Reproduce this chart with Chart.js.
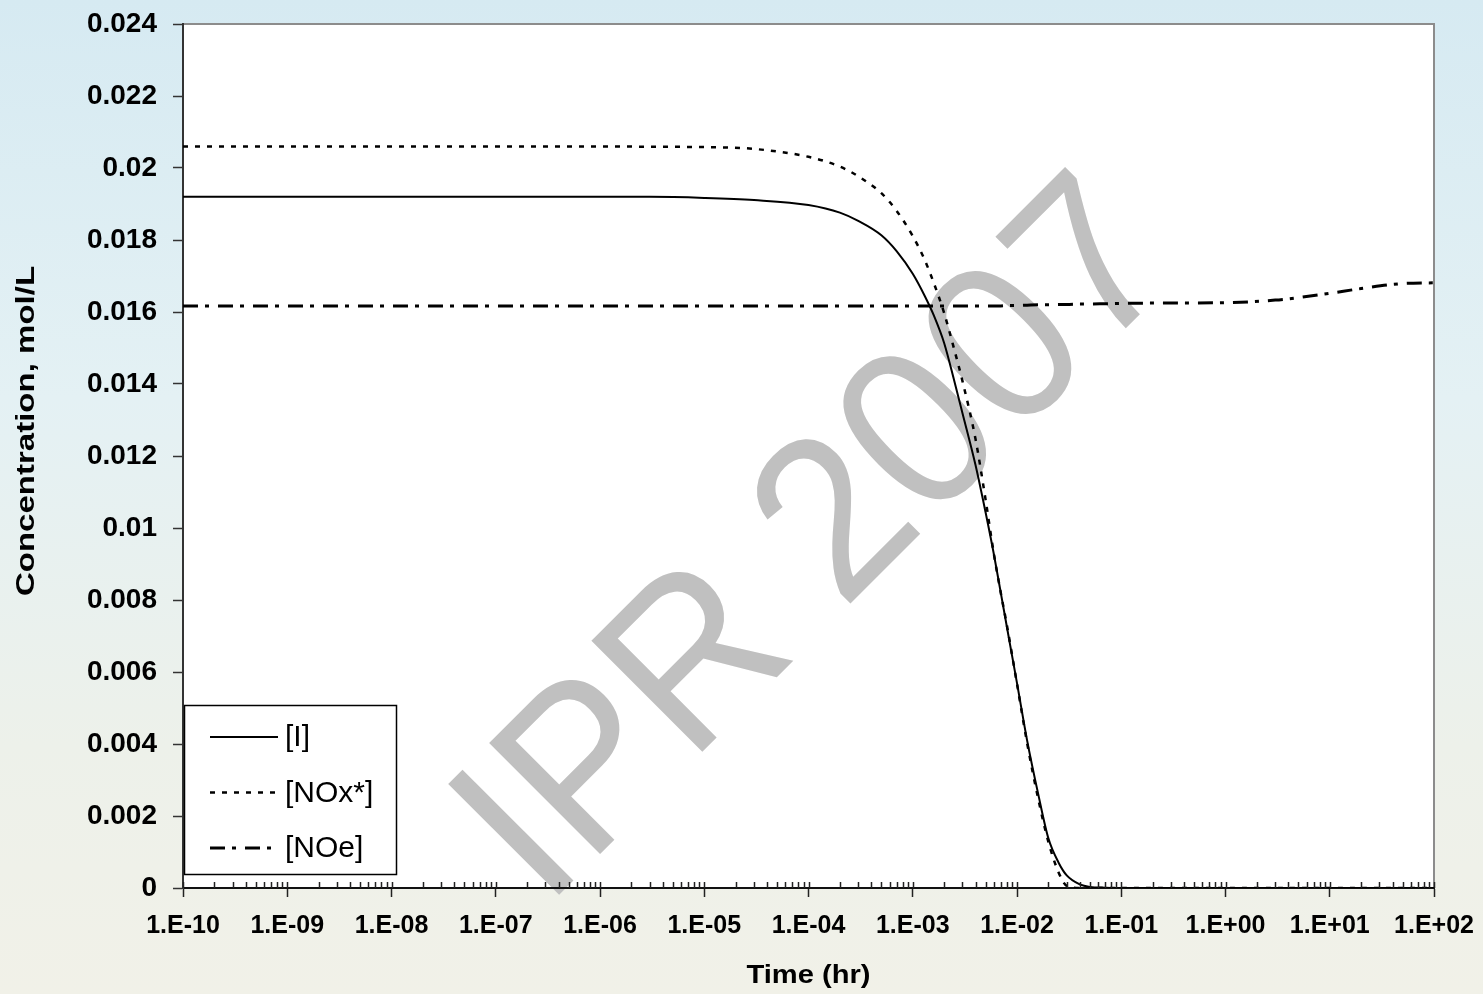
<!DOCTYPE html>
<html>
<head>
<meta charset="utf-8">
<script src="https://cdn.jsdelivr.net/npm/chart.js@4.4.0/dist/chart.umd.min.js"></script>
<style>
html, body { margin: 0; padding: 0; }
body {
  width: 1483px; height: 994px; overflow: hidden;
  background: linear-gradient(180deg, #d6eaf2 0%, #e4f1f4 40%, #edf1ea 75%, #f1f1e8 100%);
}
canvas { display: block; }
</style>
</head>
<body>
<canvas id="chart" width="1483" height="994"></canvas>
<script>
// Time points (hr)
const timeHr = [1e-10, 1e-9, 1e-8, 1e-7, 1e-6, 3e-6, 1e-5, 3e-5, 1e-4,
  2e-4, 3e-4, 5e-4, 7e-4, 1e-3, 1.3e-3, 1.6e-3, 2e-3,
  2.5e-3, 3e-3, 4e-3, 5e-3, 6e-3, 7e-3, 8e-3, 1e-2,
  1.25e-2, 1.6e-2, 2e-2, 2.5e-2, 3e-2, 4e-2, 5e-2, 7e-2,
  0.1, 0.3, 1, 3, 5, 10, 20, 50, 100];

// Concentrations, mol/L
const concI = [0.0192, 0.0192, 0.0192, 0.0192, 0.0192, 0.0192, 0.01917, 0.01911, 0.01897,
  0.01876, 0.01853, 0.01813, 0.01769, 0.01706, 0.01645, 0.01589, 0.01514,
  0.01409, 0.01319, 0.01175, 0.01043, 0.00927, 0.00819, 0.00725, 0.00569,
  0.00410, 0.00260, 0.00138, 0.00071, 0.00035, 0.0001, 0.00003, 0.00001,
  0, 0, 0, 0, 0, 0, 0, 0, 0];
const concNOx = [0.0206, 0.0206, 0.0206, 0.0206, 0.0206, 0.02059, 0.02058, 0.02053, 0.02031,
  0.02004, 0.01977, 0.0193, 0.01881, 0.01811, 0.01745, 0.01679, 0.01597,
  0.01496, 0.01408, 0.01247, 0.01078, 0.00928, 0.00819, 0.0073, 0.00567,
  0.00403, 0.00247, 0.00128, 0.00044, 0.00006, 0, 0, 0,
  0, 0, 0, 0, 0, 0, 0, 0, 0];
const concNOe = [0.01617, 0.01617, 0.01617, 0.01617, 0.01617, 0.01617, 0.01617, 0.01617, 0.01617,
  0.01617, 0.01617, 0.01617, 0.01617, 0.01617, 0.01617, 0.01617, 0.01617,
  0.01617, 0.01617, 0.01617, 0.01617, 0.01617, 0.01617, 0.01618, 0.01618,
  0.01619, 0.0162, 0.0162, 0.01621, 0.01621, 0.01622, 0.01622, 0.01623,
  0.01624, 0.01625, 0.01626, 0.01633, 0.0164, 0.01652, 0.01665, 0.01679, 0.01681];

const seriesLabels = ['[I]', '[NOx*]', '[NOe]'];
const xTitle = 'Time (hr)';
const yTitle = 'Concentration, mol/L';
const watermark = 'IPR 2007';

const FONT = '"Liberation Sans", Arial, sans-serif';

function pts(ys) {
  return timeHr.map((t, i) => ({x: t, y: ys[i]}));
}

function expLabel(v) {
  const e = Math.round(Math.log10(v));
  return '1.E' + (e < 0 ? '-' : '+') + String(Math.abs(e)).padStart(2, '0');
}

// white plot area, grey frame, watermark, minor ticks, legend, axis titles
const slideChrome = {
  id: 'slideChrome',
  beforeDraw(chart) {
    const {ctx, chartArea: a} = chart;
    ctx.save();
    ctx.fillStyle = '#ffffff';
    ctx.fillRect(a.left, a.top, a.right - a.left, a.bottom - a.top);
    ctx.strokeStyle = '#8c8c8c';
    ctx.lineWidth = 2;
    ctx.beginPath();
    ctx.moveTo(a.left, a.top);
    ctx.lineTo(a.right, a.top);
    ctx.lineTo(a.right, a.bottom);
    ctx.stroke();

    ctx.translate(a.left + 362, a.bottom + 21);
    ctx.rotate(-45 * Math.PI / 180);
    ctx.scale(0.95, 1);
    ctx.font = '228px ' + FONT;
    ctx.fillStyle = '#c0c0c0';
    ctx.textBaseline = 'alphabetic';
    ctx.textAlign = 'left';
    ctx.fillText(watermark, 0, 0);
    ctx.restore();
  },
  afterDatasetsDraw(chart) {
    const {ctx, chartArea: a, scales: {x}} = chart;
    ctx.save();
    // x ticks inside the plot
    ctx.strokeStyle = '#222';
    ctx.lineWidth = 1.5;
    ctx.beginPath();
    for (let e = -10; e < 2; e++) {
      for (let m = 1; m <= 9; m++) {
        const px = Math.round(x.getPixelForValue(m * Math.pow(10, e))) + 0.5;
        ctx.moveTo(px, a.bottom);
        ctx.lineTo(px, a.bottom - 6);
      }
    }
    const pEnd = Math.round(x.getPixelForValue(100)) + 0.5;
    ctx.moveTo(pEnd, a.bottom);
    ctx.lineTo(pEnd, a.bottom - 6);
    ctx.stroke();

    // legend box
    const bx = a.left + 1, by = a.bottom - 183, bw = 212, bh = 169;
    ctx.fillStyle = '#ffffff';
    ctx.fillRect(bx, by, bw, bh);
    ctx.strokeStyle = '#000';
    ctx.lineWidth = 1.5;
    ctx.strokeRect(bx + 0.5, by + 0.5, bw, bh);
    ctx.font = '30px ' + FONT;
    ctx.textBaseline = 'middle';
    ctx.textAlign = 'left';
    chart.data.datasets.forEach((ds, i) => {
      const ly = by + 32 + i * 55.5;
      ctx.strokeStyle = ds.borderColor;
      ctx.lineWidth = ds.borderWidth;
      ctx.setLineDash(ds.borderDash || []);
      ctx.beginPath();
      ctx.moveTo(bx + 26, ly);
      ctx.lineTo(bx + 94, ly);
      ctx.stroke();
      ctx.setLineDash([]);
      ctx.fillStyle = '#000';
      ctx.fillText(ds.label, bx + 101, ly + 1);
    });
    ctx.restore();
  },
  afterDraw(chart) {
    const {ctx, chartArea: a} = chart;
    ctx.save();
    ctx.fillStyle = '#000';
    ctx.font = 'bold 26px ' + FONT;
    ctx.textAlign = 'center';
    ctx.textBaseline = 'middle';
    ctx.save();
    ctx.translate((a.left + a.right) / 2, 976);
    ctx.scale(1.12, 1);
    ctx.fillText(xTitle, 0, 0);
    ctx.restore();
    ctx.translate(27, 431);
    ctx.rotate(-Math.PI / 2);
    ctx.scale(1.27, 1);
    ctx.fillText(yTitle, 0, 0);
    ctx.restore();
  }
};

new Chart(document.getElementById('chart'), {
  type: 'line',
  data: {
    datasets: [
      {label: seriesLabels[0], data: pts(concI), borderColor: '#000', borderWidth: 2},
      {label: seriesLabels[1], data: pts(concNOx), borderColor: '#000', borderWidth: 2.5, borderDash: [5, 7]},
      {label: seriesLabels[2], data: pts(concNOe), borderColor: '#000', borderWidth: 3, borderDash: [15, 7, 4, 9]}
    ]
  },
  options: {
    responsive: false,
    animation: false,
    devicePixelRatio: 1,
    layout: {padding: {top: 24, right: 49, left: 0, bottom: 0}},
    elements: {
      point: {radius: 0},
      line: {cubicInterpolationMode: 'monotone', fill: false}
    },
    plugins: {legend: {display: false}, tooltip: {enabled: false}},
    scales: {
      x: {
        type: 'logarithmic',
        min: 1e-10,
        max: 100,
        afterBuildTicks: scale => {
          const t = [];
          for (let e = -10; e <= 2; e++) t.push({value: Math.pow(10, e)});
          scale.ticks = t;
        },
        afterFit: scale => {
          scale.height = 106;
          scale.paddingLeft = 0;
          scale.paddingRight = 0;
        },
        grid: {display: true, drawOnChartArea: false, tickLength: 9, tickColor: '#222', tickWidth: 1.5},
        border: {display: true, color: '#111', width: 2},
        ticks: {
          autoSkip: false, maxRotation: 0, padding: 14,
          color: '#000',
          font: {family: FONT, size: 25, weight: 'bold'},
          callback: v => expLabel(v)
        }
      },
      y: {
        min: 0,
        max: 0.024,
        afterFit: scale => {
          scale.width = 183;
          scale.paddingTop = 0;
          scale.paddingBottom = 0;
        },
        grid: {display: true, drawOnChartArea: false, tickLength: 10, tickColor: '#333', tickWidth: 1.5},
        border: {display: true, color: '#333', width: 2},
        ticks: {
          stepSize: 0.002, padding: 16,
          color: '#000',
          font: {family: FONT, size: 28, weight: 'bold'},
          callback: v => String(+v.toFixed(3))
        }
      }
    }
  },
  plugins: [slideChrome]
});
</script>
</body>
</html>
